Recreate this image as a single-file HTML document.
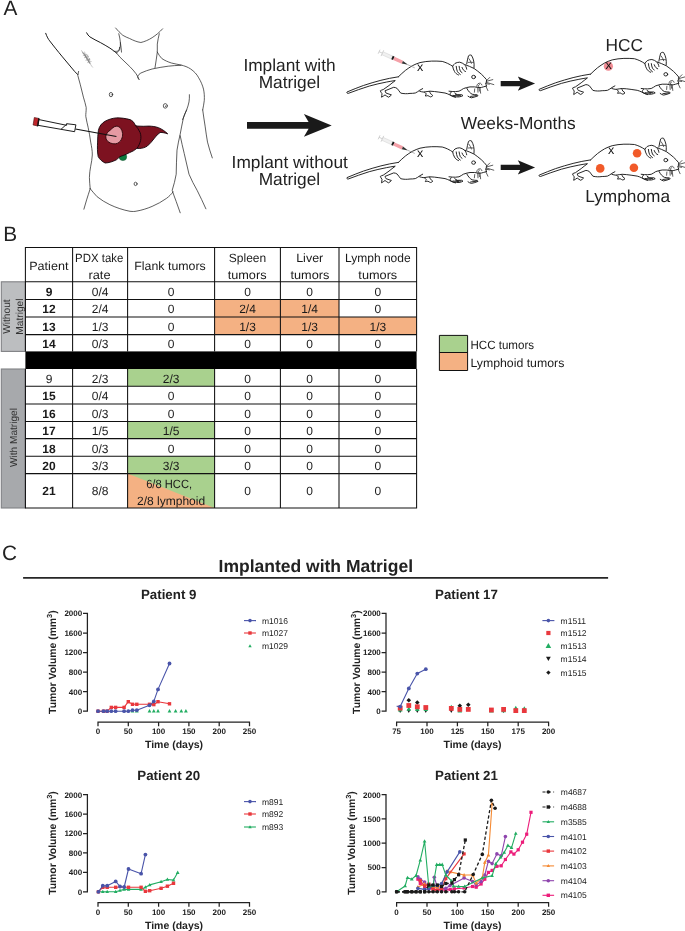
<!DOCTYPE html>
<html lang="en"><head><meta charset="utf-8"><title>Figure</title>
<style>html,body{margin:0;padding:0;background:#fff}svg{display:block;will-change:transform;transform:translateZ(0)}text{white-space:pre;text-rendering:geometricPrecision}</style></head>
<body>
<svg width="685" height="931" viewBox="0 0 685 931">
<text x="3.6" y="15.3" font-family="Liberation Sans, sans-serif" font-size="20.8" fill="#222">A</text>
<text x="3.3" y="240.8" font-family="Liberation Sans, sans-serif" font-size="20.8" fill="#222">B</text>
<path d="M45.7 33.3C47 37 48.5 39.5 49.7 40.9C54 46.5 58 51.5 61.8 56.1L74.6 71.4L77.8 74.6" stroke="#1a1a1a" stroke-width="1.0" fill="none" stroke-linecap="round" stroke-linejoin="round"/>
<path d="M78.6 71.4L77.8 75.4C78.5 78.5 79.5 81.5 80.2 84.2L83.4 97.1C84.5 101 85.6 104.5 86.2 107.5C86.3 111.5 85.6 114 85.8 116.4C86.4 120.5 87.4 124 88.2 127.7C89.2 132.5 90 137 90.7 142.1C91.5 146.5 92.4 150.5 92.3 155C92.2 159 91.3 162.5 90.7 166.2C90.1 170 89.4 173.5 89.4 177.4C89.5 181.5 89.9 185 90.2 188.7" stroke="#2a2a2a" stroke-width="0.75" fill="none" stroke-linecap="round" stroke-linejoin="round"/>
<path d="M90.2 188.7C89 192.5 87.8 196 86.6 199.9L83.9 209.2" stroke="#2a2a2a" stroke-width="0.75" fill="none" stroke-linecap="round" stroke-linejoin="round"/>
<path d="M90.2 188.7C92.5 191.5 94.7 194.2 97.1 196.7C101 199.8 105.3 202.5 109.9 204.7C116.5 207.8 123.2 210 130 211.3C133 211.6 134.8 211.5 136.1 211.2C141.5 210.3 147 208.6 152.1 206.4C157.2 204.2 162.2 201.5 166.6 198.3C169 196.5 171.2 194.4 173 191.9" stroke="#2a2a2a" stroke-width="0.75" fill="none" stroke-linecap="round" stroke-linejoin="round"/>
<path d="M186.6 110C185.2 112.6 184.2 115.2 183.4 118C182.2 123.4 181.2 128.7 180.2 134.1C179 139.4 177.8 144.7 177 150.1C176.3 158.1 176.6 166.2 176.2 174.2C175.3 179.7 173.8 185 172.2 190.3C173.4 194.1 174.8 197.8 176.2 201.5L180.2 212.8" stroke="#2a2a2a" stroke-width="0.75" fill="none" stroke-linecap="round" stroke-linejoin="round"/>
<path d="M180.2 135.7C181.4 141.6 182.8 147.5 184.2 153.4C185.8 160.3 187.4 167.3 189 174.2C191.3 179.8 194.2 185.1 197.1 190.3C200.2 196.4 203.1 202.6 205.9 208.8" stroke="#2a2a2a" stroke-width="0.75" fill="none" stroke-linecap="round" stroke-linejoin="round"/>
<path d="M202.7 109.9C203.4 115.4 204.3 120.7 205.1 126.1C205.9 131.4 206.5 136.8 207.5 142.1C208.8 147.5 210.6 152.7 212.3 157.9" stroke="#2a2a2a" stroke-width="0.75" fill="none" stroke-linecap="round" stroke-linejoin="round"/>
<path d="M86.6 32.8C87.4 34.4 88.5 35.8 89.9 36.9C93.2 39 96.8 40.7 100.3 42.5C103.5 44.3 106.8 46.1 109.9 48.1C112.1 49.6 114.3 51.2 116.4 52.9" stroke="#1a1a1a" stroke-width="1.0" fill="none" stroke-linecap="round" stroke-linejoin="round"/>
<path d="M116.4 52.9L120 57.2L129.8 66.6C132 68.8 134.2 71.2 136.1 73.8C137.3 75.6 138.3 77.4 139 79.4" stroke="#2a2a2a" stroke-width="0.75" fill="none" stroke-linecap="round" stroke-linejoin="round"/>
<path d="M139 79.4C138 78.4 137.4 77.3 137.7 76.2C138.3 74.8 139.5 73.8 140.9 73C144.5 71.3 148.3 70.1 152.1 69C157.4 67.8 162.8 66.9 168.2 66.2C172.5 65.7 176.7 65.4 181 65.3" stroke="#2a2a2a" stroke-width="0.75" fill="none" stroke-linecap="round" stroke-linejoin="round"/>
<path d="M115.6 28C117.8 30.6 120.2 33.1 122.8 35.3C125 36.6 127.3 37.6 129.6 38.5C133.2 40.3 137 42 140.9 42.5C144.8 41.6 148.6 39.9 152.1 37.7C156 35.2 159.6 32.2 162.6 28.8" stroke="#2a2a2a" stroke-width="0.75" fill="none" stroke-linecap="round" stroke-linejoin="round"/>
<path d="M118.8 33.7C119.6 36.6 120.1 39.5 120.4 42.5C120.6 44.9 120.3 47.3 119.6 49.7C118.9 51.1 117.8 52.2 116.4 52.9M114 51.3C115.9 51.6 117.9 51.3 118.6 50.5C119.4 49.6 119.6 48.4 119.6 47.3M120.4 42.5C120.9 45.7 121.3 48.9 121.5 52.1" stroke="#2a2a2a" stroke-width="0.75" fill="none" stroke-linecap="round" stroke-linejoin="round"/>
<path d="M159.3 33.7C158.5 37.1 157.7 40.6 157.3 44.1C157.2 46.8 157.2 49.4 157.3 52.1C156.7 57.3 155.8 62.5 155 67.7" stroke="#2a2a2a" stroke-width="0.75" fill="none" stroke-linecap="round" stroke-linejoin="round"/>
<path d="M157.3 52.1C158.5 54.4 160 56.6 161.8 58.5C164.7 60.5 168 61.9 171.4 63C174.5 63.9 177.8 64.3 181 65C184.4 65.9 187.8 67 190.7 69C194 71.3 196.8 74.2 198.7 77.8C200.8 81.3 202.5 85.1 203.5 89.1C204.3 92.8 204.5 96.6 204.3 100.3C204.1 103.5 203.2 106.7 202.7 109.9" stroke="#2a2a2a" stroke-width="0.75" fill="none" stroke-linecap="round" stroke-linejoin="round"/>
<path d="M189.4 94.7C189.5 97.1 189.4 99.5 189 101.9C188.5 104.6 187.6 107.3 186.6 109.9L182.6 119.6" stroke="#2a2a2a" stroke-width="0.75" fill="none" stroke-linecap="round" stroke-linejoin="round"/>
<ellipse cx="111" cy="94.6" rx="1.7" ry="2.2" stroke="#2a2a2a" stroke-width="0.75" fill="none" stroke-linecap="round" stroke-linejoin="round"/><circle cx="111.2" cy="94.8" r="0.5" fill="#444"/>
<ellipse cx="165.3" cy="105.9" rx="2" ry="2.3" stroke="#2a2a2a" stroke-width="0.75" fill="none" stroke-linecap="round" stroke-linejoin="round"/><circle cx="165.5" cy="106.2" r="0.6" fill="#444"/>
<ellipse cx="135.6" cy="183.9" rx="1.5" ry="1.7" stroke="#2a2a2a" stroke-width="0.75" fill="none" stroke-linecap="round" stroke-linejoin="round"/>
<path d="M81.6 50.6L83.6 54.4L82.6 51.8L85.4 56.6L83.8 53L87 58.8L84.8 55.2L88.6 61.6L86.4 57.2L90 63.8L88 60L91.6 66L92.6 67.2M83.2 55.6L86.8 54.2L84.4 57.8L88.6 56.4L85.8 60.4L90 59L87.6 62.6L91.2 61.6M84.6 52L86.2 57.4L87.6 54.8L88.4 60.2L89.6 58.2L89.8 63" stroke="#777" stroke-width="0.4" fill="none" stroke-linecap="round" stroke-linejoin="round"/>
<ellipse cx="122.9" cy="156.8" rx="3.8" ry="3.8" fill="#0d7a3e" stroke="#0a4f28" stroke-width="0.5"/>
<path d="M98.4 130.4C99.2 126.4 101.8 123 105.4 121.1C108.8 119.3 112.6 118.2 116.4 117.9C121 117.7 125.6 118.5 130 119.6C132.4 120.6 134.2 122.3 135.3 125.3C136.2 125.7 137 125.9 137.7 126.1C141.4 126.4 145.2 126.3 148.9 126.1C152.2 126.2 155.5 126.6 158.5 127.7C161.9 129.1 165 131.2 167.7 133.8C165.2 133 162.5 132.3 160.1 132.5C157.9 133.9 156.1 135.9 154.5 138.1C152.3 141 150 143.8 147.3 146.1C144.9 147.6 142.1 148.4 139.3 148.5L136.9 148.3C134.7 150.2 132.3 151.6 129.6 152.6C126.5 154.2 123.3 155.6 120 156.6C118.8 157.6 117.6 158.8 116.4 159.8C112.8 161.6 108.9 162.9 105.1 163C102.2 161.5 99.6 159.4 98.2 156.6C97.3 151.8 97.3 147 97.6 142.1C97.7 138.2 97.8 134.2 98.4 130.4Z" fill="#7d1220" stroke="#14030a" stroke-width="0.9" stroke-linejoin="round"/>
<path d="M135.3 125.3C137.3 127.5 139 129.9 140.1 132.5C141 135.1 141.1 137.9 140.6 140.5C139.9 143.4 138.6 146.1 136.9 148.5" stroke="#14030a" stroke-width="0.9" fill="none"/>
<path d="M116.3 126.2C113.8 126.4 112 128.5 110.5 129.9C108.2 131.6 106 133.6 105.8 136.5C105.7 139 107 141.2 109 142.3C111 143.5 113.4 144 115.6 143.8C118 143.5 120.3 141.8 121.4 139.4C122.3 137.6 122.8 135.5 122.6 133.5C122.4 131.6 121.8 129.8 120.7 128.4C119.6 127 118 126.1 116.3 126.2Z" fill="#e59aa3" stroke="#2a0509" stroke-width="0.9"/>
<path d="M75.4 129L116.4 136.5" stroke="#111" stroke-width="1.15" fill="none"/>
<path d="M39 119.6L66.6 125.3L66.6 123.7L75.9 124.8L74.6 131.7L38 125.3Z" fill="#fff" stroke="#111" stroke-width="0.95" stroke-linejoin="round"/>
<path d="M61 129.3L66.6 124.3" stroke="#111" stroke-width="0.9" fill="none"/>
<path d="M34.3 117.5L38.8 118.4L37.5 125.9L33.1 125.0Z" fill="#bf262b" stroke="#4a0a0c" stroke-width="0.6"/>
<path d="M38.9 118.2L37.5 126.3" stroke="#111" stroke-width="1.2"/>
<g font-family="Liberation Sans, sans-serif" font-size="17.3" fill="#222" text-anchor="middle">
<text x="289.5" y="70.7">Implant with</text><text x="289.4" y="88.2">Matrigel</text>
<text x="289.7" y="168.0">Implant without</text><text x="289.4" y="185.4">Matrigel</text>
<text x="518.2" y="128.6">Weeks-Months</text>
<text x="624.2" y="50.7">HCC</text><text x="627.6" y="201.7">Lymphoma</text>
</g>
<path d="M247.0 122.05000000000001H308.59999999999997L303.9 114.10000000000001L331.7 125.4L303.9 136.70000000000002L308.59999999999997 128.75H247.0Z" fill="#1a1a1a"/>
<path d="M500.7 81.05H520.2L517.8000000000001 76.39999999999999L535.1 83.6L517.8000000000001 90.8L520.2 86.14999999999999H500.7Z" fill="#1a1a1a"/>
<path d="M500.7 164.85H520.2L517.8000000000001 160.20000000000002L535.1 167.4L517.8000000000001 174.6L520.2 169.95000000000002H500.7Z" fill="#1a1a1a"/>
<g transform="translate(340,40)"><g>
<path d="M58.4 36.8C52.5 37.7 46.6 38.8 40.9 40.3C35 41.8 29.2 43.6 23.4 45.5C17.9 47.5 12.4 49.7 7 52C6.5 52.7 7 53.4 8.2 53.4C15.1 50.8 22.1 48.3 29.2 46.1C35 44.5 40.8 43.1 46.7 42C49.4 41.5 52.2 41 54.9 40.6" stroke="#1c1c1c" stroke-width="0.95" fill="none" stroke-linecap="round" stroke-linejoin="round"/>
<path d="M58.4 36.8C60.6 34.6 63 32.4 65.4 30.4C67.6 28.7 70 27.1 72.4 25.7C74.8 24.4 77.4 23.4 80 22.6C83.8 21.7 87.8 21.2 91.7 21.1C95.2 21 98.7 21.1 102.2 21.4C105.9 22.4 109.5 24.1 112.7 26.3" stroke="#1c1c1c" stroke-width="0.95" fill="none" stroke-linecap="round" stroke-linejoin="round"/>
<path d="M54.9 40.9C52.9 42.4 50.9 43.9 49 45.5C47 46.8 45.1 48.2 43.2 49.6C42.2 49.8 41.2 50.2 40.3 50.8C40.7 51.9 41.4 52.8 42 53.7C42 54.9 41.6 56 41.5 57.2C42.7 56.5 43.9 55.8 45 54.9C46.1 55.8 47.3 56.5 48.5 57.2C49.6 56.6 50.6 55.9 51.4 54.9C49.7 54.2 47.8 53.8 46.1 53.1C45.6 52.4 45.2 51.6 45 50.8C47.9 49.6 50.8 48.4 53.7 47.3C55 47.3 56.2 47.8 57.2 48.5C58.5 49.9 59.4 51.7 60.7 53.1C63.7 53.8 66.9 53.9 70 53.4C71.8 53.4 73.6 53.3 75.3 53C76.9 52.3 78.3 51.3 79.6 50.3L82.7 48.6" stroke="#1c1c1c" stroke-width="0.95" fill="none" stroke-linecap="round" stroke-linejoin="round"/>
<path d="M79.6 51.2C81 51.7 82.5 52 84 52.1C86 51.7 88.1 51.3 90.1 51.2C93 51.3 96 51.7 98.9 52.1C101 52.3 103 52.6 105 53C106.5 53.4 108 54 109.4 54.7C110.6 55.2 111.8 55.8 112.9 56.5L115.5 57.3" stroke="#1c1c1c" stroke-width="0.95" fill="none" stroke-linecap="round" stroke-linejoin="round"/>
<path d="M84.4 52.1C85.1 52.6 85.7 53.2 86.2 53.8C86.1 54.6 85.7 55.3 85.3 56C86.2 56 87.1 55.8 87.9 55.6C88.8 56.1 89.7 56.6 90.6 56.9C91.5 56.7 92.3 56.2 92.8 55.6C92.2 54.9 91.5 54.3 90.6 53.8C90.2 53.1 89.9 52.4 89.7 51.6" stroke="#1c1c1c" stroke-width="0.95" fill="none" stroke-linecap="round" stroke-linejoin="round"/>
<path d="M109 51.2C111.2 51.5 113.3 51.6 115.5 51.6L119 51.2C120.6 50.5 122 49.5 123.4 48.6C125.5 47.8 127.7 47.2 130 46.9C131.6 46.8 133.2 46.8 134.7 46.9C136.5 47.3 138.2 47.6 140 47.6C141.1 47.5 142.2 47.3 143.3 46.9L146.5 46" stroke="#1c1c1c" stroke-width="0.95" fill="none" stroke-linecap="round" stroke-linejoin="round"/>
<path d="M111.2 52.1C110.5 52.9 110 53.8 109.8 54.7C111 55.5 112.4 56.1 113.8 56.5C115.5 56.9 117.3 57 119 56.9C120.4 56.7 121.8 56.3 123 55.6L121.7 54.7C120.2 54.8 118.8 54.8 117.3 54.7C116.4 54.2 115.5 53.7 114.7 53M113 55.4L118.6 56M115.6 54.6L120.4 55.6" stroke="#1c1c1c" stroke-width="0.95" fill="none" stroke-linecap="round" stroke-linejoin="round"/>
<path d="M126.8 48.3C127.5 49.7 128.4 51 129.5 52.2C130.3 53 131.2 53.7 132.1 54.2C133.8 54.6 135.6 54.8 137.3 54.8L138 55.8C135.9 56.7 133.7 57.4 131.4 57.8C130.2 57.5 129 57 128 56.2M130.6 56.4L136.4 55.6" stroke="#1c1c1c" stroke-width="0.95" fill="none" stroke-linecap="round" stroke-linejoin="round"/>
<path d="M124.9 24.6C128 25.7 131.1 27 134.1 28.5C136.6 30.2 139 32.1 141.3 34.1C143.2 35.8 144.9 37.7 146.5 39.7C146.7 40.6 146.5 41.5 146.2 42.3C145.9 43 145.8 43.7 146 44.4L146.5 46" stroke="#1c1c1c" stroke-width="0.95" fill="none" stroke-linecap="round" stroke-linejoin="round"/>
<path d="M118.5 35C116.7 34.3 115.3 33 114.5 31.5C113.6 29.9 112.9 28.1 112.7 26.3C113.2 25.2 114 24.2 115 23.4C116.4 22.6 118.1 22.2 119.7 22.2C121.5 22.6 123.1 23.4 124.4 24.5C125.7 25.8 126.5 27.4 126.7 29.2" stroke="#1c1c1c" stroke-width="0.95" fill="none" stroke-linecap="round" stroke-linejoin="round"/>
<path d="M116.2 26.3C116.3 28.1 116.8 29.9 117.4 31.5C118.1 32.7 119.1 33.7 120.3 34.5M119.1 26.3C119.2 27.9 119.7 29.5 120.3 31C120.7 31.7 121.3 32.3 122 32.7M122 27.4C122.4 28.5 123 29.5 123.8 30.4C124.3 30.9 124.9 31.3 125.5 31.5" stroke="#1c1c1c" stroke-width="0.95" fill="none" stroke-linecap="round" stroke-linejoin="round"/>
<path d="M126.7 23.9C127.1 21.2 127.7 18.5 128.5 15.8C129.4 15 130.5 14.8 131.4 15.2C132.5 17 133.3 19 133.7 21C134.1 23.1 134.3 25.3 134 27.8" stroke="#1c1c1c" stroke-width="0.95" fill="none" stroke-linecap="round" stroke-linejoin="round"/>
<path d="M129 18.7C130.1 20.1 130.9 21.7 131.4 23.4M128.3 22.4C130 22.1 131.6 22.1 133.2 22.4" stroke="#222" stroke-width="0.72" fill="none" stroke-linecap="round" stroke-linejoin="round"/>
<path d="M146.4 40.8L149.8 37.4M146.6 41.3L152.8 39.6M146.4 42.4L153.8 44.6M145.6 43.6L149.4 44.2M145.9 46.3L147.9 50.6" stroke="#222" stroke-width="0.72" fill="none" stroke-linecap="round" stroke-linejoin="round"/>
<path d="M137.7 47.6L138 52.2M140 47.6L140.6 53.2M134.7 48.9L134.4 52.2M138.9 47L139.4 51M136.7 46.3C136.9 45.2 137.3 44.3 138 43.7C138.9 43.2 139.8 43.1 140.6 43.3C141.3 43.7 141.7 44.3 141.9 45M138.2 46.4C138.4 45.4 138.8 44.7 139.5 44.5" stroke="#222" stroke-width="0.72" fill="none" stroke-linecap="round" stroke-linejoin="round"/>
<ellipse cx="133.6" cy="37" rx="1.9" ry="1.7" stroke="#1c1c1c" stroke-width="0.95" fill="none" stroke-linecap="round" stroke-linejoin="round"/>
</g><g>
<g transform="translate(39.1,11.7) rotate(24.4)">
<path d="M0 -2.2V2.2M0 0H5M3.6 -3.2V3.2" stroke="#c4c4c4" stroke-width="0.7" fill="none"/>
<rect x="3.8" y="-1.6" width="10.4" height="3.2" fill="#f0f0f0" stroke="#c8c8c8" stroke-width="0.4"/>
<rect x="14.2" y="-1.9" width="2.0" height="3.8" fill="#1a1a1a"/>
<rect x="16.2" y="-1.7" width="9.4" height="3.4" fill="#f4a0a8"/>
<path d="M25.6 -1.4L30.6 -0.3V0.3L25.6 1.4Z" fill="#333"/>
<path d="M30 0H39.2" stroke="#777" stroke-width="0.5"/>
</g></g></g>
<g transform="translate(340,125.6)"><g>
<path d="M58.4 36.8C52.5 37.7 46.6 38.8 40.9 40.3C35 41.8 29.2 43.6 23.4 45.5C17.9 47.5 12.4 49.7 7 52C6.5 52.7 7 53.4 8.2 53.4C15.1 50.8 22.1 48.3 29.2 46.1C35 44.5 40.8 43.1 46.7 42C49.4 41.5 52.2 41 54.9 40.6" stroke="#1c1c1c" stroke-width="0.95" fill="none" stroke-linecap="round" stroke-linejoin="round"/>
<path d="M58.4 36.8C60.6 34.6 63 32.4 65.4 30.4C67.6 28.7 70 27.1 72.4 25.7C74.8 24.4 77.4 23.4 80 22.6C83.8 21.7 87.8 21.2 91.7 21.1C95.2 21 98.7 21.1 102.2 21.4C105.9 22.4 109.5 24.1 112.7 26.3" stroke="#1c1c1c" stroke-width="0.95" fill="none" stroke-linecap="round" stroke-linejoin="round"/>
<path d="M54.9 40.9C52.9 42.4 50.9 43.9 49 45.5C47 46.8 45.1 48.2 43.2 49.6C42.2 49.8 41.2 50.2 40.3 50.8C40.7 51.9 41.4 52.8 42 53.7C42 54.9 41.6 56 41.5 57.2C42.7 56.5 43.9 55.8 45 54.9C46.1 55.8 47.3 56.5 48.5 57.2C49.6 56.6 50.6 55.9 51.4 54.9C49.7 54.2 47.8 53.8 46.1 53.1C45.6 52.4 45.2 51.6 45 50.8C47.9 49.6 50.8 48.4 53.7 47.3C55 47.3 56.2 47.8 57.2 48.5C58.5 49.9 59.4 51.7 60.7 53.1C63.7 53.8 66.9 53.9 70 53.4C71.8 53.4 73.6 53.3 75.3 53C76.9 52.3 78.3 51.3 79.6 50.3L82.7 48.6" stroke="#1c1c1c" stroke-width="0.95" fill="none" stroke-linecap="round" stroke-linejoin="round"/>
<path d="M79.6 51.2C81 51.7 82.5 52 84 52.1C86 51.7 88.1 51.3 90.1 51.2C93 51.3 96 51.7 98.9 52.1C101 52.3 103 52.6 105 53C106.5 53.4 108 54 109.4 54.7C110.6 55.2 111.8 55.8 112.9 56.5L115.5 57.3" stroke="#1c1c1c" stroke-width="0.95" fill="none" stroke-linecap="round" stroke-linejoin="round"/>
<path d="M84.4 52.1C85.1 52.6 85.7 53.2 86.2 53.8C86.1 54.6 85.7 55.3 85.3 56C86.2 56 87.1 55.8 87.9 55.6C88.8 56.1 89.7 56.6 90.6 56.9C91.5 56.7 92.3 56.2 92.8 55.6C92.2 54.9 91.5 54.3 90.6 53.8C90.2 53.1 89.9 52.4 89.7 51.6" stroke="#1c1c1c" stroke-width="0.95" fill="none" stroke-linecap="round" stroke-linejoin="round"/>
<path d="M109 51.2C111.2 51.5 113.3 51.6 115.5 51.6L119 51.2C120.6 50.5 122 49.5 123.4 48.6C125.5 47.8 127.7 47.2 130 46.9C131.6 46.8 133.2 46.8 134.7 46.9C136.5 47.3 138.2 47.6 140 47.6C141.1 47.5 142.2 47.3 143.3 46.9L146.5 46" stroke="#1c1c1c" stroke-width="0.95" fill="none" stroke-linecap="round" stroke-linejoin="round"/>
<path d="M111.2 52.1C110.5 52.9 110 53.8 109.8 54.7C111 55.5 112.4 56.1 113.8 56.5C115.5 56.9 117.3 57 119 56.9C120.4 56.7 121.8 56.3 123 55.6L121.7 54.7C120.2 54.8 118.8 54.8 117.3 54.7C116.4 54.2 115.5 53.7 114.7 53M113 55.4L118.6 56M115.6 54.6L120.4 55.6" stroke="#1c1c1c" stroke-width="0.95" fill="none" stroke-linecap="round" stroke-linejoin="round"/>
<path d="M126.8 48.3C127.5 49.7 128.4 51 129.5 52.2C130.3 53 131.2 53.7 132.1 54.2C133.8 54.6 135.6 54.8 137.3 54.8L138 55.8C135.9 56.7 133.7 57.4 131.4 57.8C130.2 57.5 129 57 128 56.2M130.6 56.4L136.4 55.6" stroke="#1c1c1c" stroke-width="0.95" fill="none" stroke-linecap="round" stroke-linejoin="round"/>
<path d="M124.9 24.6C128 25.7 131.1 27 134.1 28.5C136.6 30.2 139 32.1 141.3 34.1C143.2 35.8 144.9 37.7 146.5 39.7C146.7 40.6 146.5 41.5 146.2 42.3C145.9 43 145.8 43.7 146 44.4L146.5 46" stroke="#1c1c1c" stroke-width="0.95" fill="none" stroke-linecap="round" stroke-linejoin="round"/>
<path d="M118.5 35C116.7 34.3 115.3 33 114.5 31.5C113.6 29.9 112.9 28.1 112.7 26.3C113.2 25.2 114 24.2 115 23.4C116.4 22.6 118.1 22.2 119.7 22.2C121.5 22.6 123.1 23.4 124.4 24.5C125.7 25.8 126.5 27.4 126.7 29.2" stroke="#1c1c1c" stroke-width="0.95" fill="none" stroke-linecap="round" stroke-linejoin="round"/>
<path d="M116.2 26.3C116.3 28.1 116.8 29.9 117.4 31.5C118.1 32.7 119.1 33.7 120.3 34.5M119.1 26.3C119.2 27.9 119.7 29.5 120.3 31C120.7 31.7 121.3 32.3 122 32.7M122 27.4C122.4 28.5 123 29.5 123.8 30.4C124.3 30.9 124.9 31.3 125.5 31.5" stroke="#1c1c1c" stroke-width="0.95" fill="none" stroke-linecap="round" stroke-linejoin="round"/>
<path d="M126.7 23.9C127.1 21.2 127.7 18.5 128.5 15.8C129.4 15 130.5 14.8 131.4 15.2C132.5 17 133.3 19 133.7 21C134.1 23.1 134.3 25.3 134 27.8" stroke="#1c1c1c" stroke-width="0.95" fill="none" stroke-linecap="round" stroke-linejoin="round"/>
<path d="M129 18.7C130.1 20.1 130.9 21.7 131.4 23.4M128.3 22.4C130 22.1 131.6 22.1 133.2 22.4" stroke="#222" stroke-width="0.72" fill="none" stroke-linecap="round" stroke-linejoin="round"/>
<path d="M146.4 40.8L149.8 37.4M146.6 41.3L152.8 39.6M146.4 42.4L153.8 44.6M145.6 43.6L149.4 44.2M145.9 46.3L147.9 50.6" stroke="#222" stroke-width="0.72" fill="none" stroke-linecap="round" stroke-linejoin="round"/>
<path d="M137.7 47.6L138 52.2M140 47.6L140.6 53.2M134.7 48.9L134.4 52.2M138.9 47L139.4 51M136.7 46.3C136.9 45.2 137.3 44.3 138 43.7C138.9 43.2 139.8 43.1 140.6 43.3C141.3 43.7 141.7 44.3 141.9 45M138.2 46.4C138.4 45.4 138.8 44.7 139.5 44.5" stroke="#222" stroke-width="0.72" fill="none" stroke-linecap="round" stroke-linejoin="round"/>
<ellipse cx="133.6" cy="37" rx="1.9" ry="1.7" stroke="#1c1c1c" stroke-width="0.95" fill="none" stroke-linecap="round" stroke-linejoin="round"/>
</g><g>
<g transform="translate(39.1,11.7) rotate(24.4)">
<path d="M0 -2.2V2.2M0 0H5M3.6 -3.2V3.2" stroke="#c4c4c4" stroke-width="0.7" fill="none"/>
<rect x="3.8" y="-1.6" width="10.4" height="3.2" fill="#f0f0f0" stroke="#c8c8c8" stroke-width="0.4"/>
<rect x="14.2" y="-1.9" width="2.0" height="3.8" fill="#1a1a1a"/>
<rect x="16.2" y="-1.7" width="9.4" height="3.4" fill="#f4a0a8"/>
<path d="M25.6 -1.4L30.6 -0.3V0.3L25.6 1.4Z" fill="#333"/>
<path d="M30 0H39.2" stroke="#777" stroke-width="0.5"/>
</g></g></g>
<circle cx="608.4" cy="66.2" r="4.6" fill="#f08c94"/>
<g transform="translate(532.2,37.3)"><g>
<path d="M58.4 36.8C52.5 37.7 46.6 38.8 40.9 40.3C35 41.8 29.2 43.6 23.4 45.5C17.9 47.5 12.4 49.7 7 52C6.5 52.7 7 53.4 8.2 53.4C15.1 50.8 22.1 48.3 29.2 46.1C35 44.5 40.8 43.1 46.7 42C49.4 41.5 52.2 41 54.9 40.6" stroke="#1c1c1c" stroke-width="0.95" fill="none" stroke-linecap="round" stroke-linejoin="round"/>
<path d="M58.4 36.8C60.6 34.6 63 32.4 65.4 30.4C67.6 28.7 70 27.1 72.4 25.7C74.8 24.4 77.4 23.4 80 22.6C83.8 21.7 87.8 21.2 91.7 21.1C95.2 21 98.7 21.1 102.2 21.4C105.9 22.4 109.5 24.1 112.7 26.3" stroke="#1c1c1c" stroke-width="0.95" fill="none" stroke-linecap="round" stroke-linejoin="round"/>
<path d="M54.9 40.9C52.9 42.4 50.9 43.9 49 45.5C47 46.8 45.1 48.2 43.2 49.6C42.2 49.8 41.2 50.2 40.3 50.8C40.7 51.9 41.4 52.8 42 53.7C42 54.9 41.6 56 41.5 57.2C42.7 56.5 43.9 55.8 45 54.9C46.1 55.8 47.3 56.5 48.5 57.2C49.6 56.6 50.6 55.9 51.4 54.9C49.7 54.2 47.8 53.8 46.1 53.1C45.6 52.4 45.2 51.6 45 50.8C47.9 49.6 50.8 48.4 53.7 47.3C55 47.3 56.2 47.8 57.2 48.5C58.5 49.9 59.4 51.7 60.7 53.1C63.7 53.8 66.9 53.9 70 53.4C71.8 53.4 73.6 53.3 75.3 53C76.9 52.3 78.3 51.3 79.6 50.3L82.7 48.6" stroke="#1c1c1c" stroke-width="0.95" fill="none" stroke-linecap="round" stroke-linejoin="round"/>
<path d="M79.6 51.2C81 51.7 82.5 52 84 52.1C86 51.7 88.1 51.3 90.1 51.2C93 51.3 96 51.7 98.9 52.1C101 52.3 103 52.6 105 53C106.5 53.4 108 54 109.4 54.7C110.6 55.2 111.8 55.8 112.9 56.5L115.5 57.3" stroke="#1c1c1c" stroke-width="0.95" fill="none" stroke-linecap="round" stroke-linejoin="round"/>
<path d="M84.4 52.1C85.1 52.6 85.7 53.2 86.2 53.8C86.1 54.6 85.7 55.3 85.3 56C86.2 56 87.1 55.8 87.9 55.6C88.8 56.1 89.7 56.6 90.6 56.9C91.5 56.7 92.3 56.2 92.8 55.6C92.2 54.9 91.5 54.3 90.6 53.8C90.2 53.1 89.9 52.4 89.7 51.6" stroke="#1c1c1c" stroke-width="0.95" fill="none" stroke-linecap="round" stroke-linejoin="round"/>
<path d="M109 51.2C111.2 51.5 113.3 51.6 115.5 51.6L119 51.2C120.6 50.5 122 49.5 123.4 48.6C125.5 47.8 127.7 47.2 130 46.9C131.6 46.8 133.2 46.8 134.7 46.9C136.5 47.3 138.2 47.6 140 47.6C141.1 47.5 142.2 47.3 143.3 46.9L146.5 46" stroke="#1c1c1c" stroke-width="0.95" fill="none" stroke-linecap="round" stroke-linejoin="round"/>
<path d="M111.2 52.1C110.5 52.9 110 53.8 109.8 54.7C111 55.5 112.4 56.1 113.8 56.5C115.5 56.9 117.3 57 119 56.9C120.4 56.7 121.8 56.3 123 55.6L121.7 54.7C120.2 54.8 118.8 54.8 117.3 54.7C116.4 54.2 115.5 53.7 114.7 53M113 55.4L118.6 56M115.6 54.6L120.4 55.6" stroke="#1c1c1c" stroke-width="0.95" fill="none" stroke-linecap="round" stroke-linejoin="round"/>
<path d="M126.8 48.3C127.5 49.7 128.4 51 129.5 52.2C130.3 53 131.2 53.7 132.1 54.2C133.8 54.6 135.6 54.8 137.3 54.8L138 55.8C135.9 56.7 133.7 57.4 131.4 57.8C130.2 57.5 129 57 128 56.2M130.6 56.4L136.4 55.6" stroke="#1c1c1c" stroke-width="0.95" fill="none" stroke-linecap="round" stroke-linejoin="round"/>
<path d="M124.9 24.6C128 25.7 131.1 27 134.1 28.5C136.6 30.2 139 32.1 141.3 34.1C143.2 35.8 144.9 37.7 146.5 39.7C146.7 40.6 146.5 41.5 146.2 42.3C145.9 43 145.8 43.7 146 44.4L146.5 46" stroke="#1c1c1c" stroke-width="0.95" fill="none" stroke-linecap="round" stroke-linejoin="round"/>
<path d="M118.5 35C116.7 34.3 115.3 33 114.5 31.5C113.6 29.9 112.9 28.1 112.7 26.3C113.2 25.2 114 24.2 115 23.4C116.4 22.6 118.1 22.2 119.7 22.2C121.5 22.6 123.1 23.4 124.4 24.5C125.7 25.8 126.5 27.4 126.7 29.2" stroke="#1c1c1c" stroke-width="0.95" fill="none" stroke-linecap="round" stroke-linejoin="round"/>
<path d="M116.2 26.3C116.3 28.1 116.8 29.9 117.4 31.5C118.1 32.7 119.1 33.7 120.3 34.5M119.1 26.3C119.2 27.9 119.7 29.5 120.3 31C120.7 31.7 121.3 32.3 122 32.7M122 27.4C122.4 28.5 123 29.5 123.8 30.4C124.3 30.9 124.9 31.3 125.5 31.5" stroke="#1c1c1c" stroke-width="0.95" fill="none" stroke-linecap="round" stroke-linejoin="round"/>
<path d="M126.7 23.9C127.1 21.2 127.7 18.5 128.5 15.8C129.4 15 130.5 14.8 131.4 15.2C132.5 17 133.3 19 133.7 21C134.1 23.1 134.3 25.3 134 27.8" stroke="#1c1c1c" stroke-width="0.95" fill="none" stroke-linecap="round" stroke-linejoin="round"/>
<path d="M129 18.7C130.1 20.1 130.9 21.7 131.4 23.4M128.3 22.4C130 22.1 131.6 22.1 133.2 22.4" stroke="#222" stroke-width="0.72" fill="none" stroke-linecap="round" stroke-linejoin="round"/>
<path d="M146.4 40.8L149.8 37.4M146.6 41.3L152.8 39.6M146.4 42.4L153.8 44.6M145.6 43.6L149.4 44.2M145.9 46.3L147.9 50.6" stroke="#222" stroke-width="0.72" fill="none" stroke-linecap="round" stroke-linejoin="round"/>
<path d="M137.7 47.6L138 52.2M140 47.6L140.6 53.2M134.7 48.9L134.4 52.2M138.9 47L139.4 51M136.7 46.3C136.9 45.2 137.3 44.3 138 43.7C138.9 43.2 139.8 43.1 140.6 43.3C141.3 43.7 141.7 44.3 141.9 45M138.2 46.4C138.4 45.4 138.8 44.7 139.5 44.5" stroke="#222" stroke-width="0.72" fill="none" stroke-linecap="round" stroke-linejoin="round"/>
<ellipse cx="133.6" cy="37" rx="1.9" ry="1.7" stroke="#1c1c1c" stroke-width="0.95" fill="none" stroke-linecap="round" stroke-linejoin="round"/>
</g></g>
<circle cx="637.1" cy="153.2" r="4.3" fill="#f15a29"/>
<circle cx="600.2" cy="168.4" r="4.3" fill="#f15a29"/>
<circle cx="633.9" cy="167.7" r="4.3" fill="#f15a29"/>
<g transform="translate(532.2,123.1)"><g>
<path d="M58.4 36.8C52.5 37.7 46.6 38.8 40.9 40.3C35 41.8 29.2 43.6 23.4 45.5C17.9 47.5 12.4 49.7 7 52C6.5 52.7 7 53.4 8.2 53.4C15.1 50.8 22.1 48.3 29.2 46.1C35 44.5 40.8 43.1 46.7 42C49.4 41.5 52.2 41 54.9 40.6" stroke="#1c1c1c" stroke-width="0.95" fill="none" stroke-linecap="round" stroke-linejoin="round"/>
<path d="M58.4 36.8C60.6 34.6 63 32.4 65.4 30.4C67.6 28.7 70 27.1 72.4 25.7C74.8 24.4 77.4 23.4 80 22.6C83.8 21.7 87.8 21.2 91.7 21.1C95.2 21 98.7 21.1 102.2 21.4C105.9 22.4 109.5 24.1 112.7 26.3" stroke="#1c1c1c" stroke-width="0.95" fill="none" stroke-linecap="round" stroke-linejoin="round"/>
<path d="M54.9 40.9C52.9 42.4 50.9 43.9 49 45.5C47 46.8 45.1 48.2 43.2 49.6C42.2 49.8 41.2 50.2 40.3 50.8C40.7 51.9 41.4 52.8 42 53.7C42 54.9 41.6 56 41.5 57.2C42.7 56.5 43.9 55.8 45 54.9C46.1 55.8 47.3 56.5 48.5 57.2C49.6 56.6 50.6 55.9 51.4 54.9C49.7 54.2 47.8 53.8 46.1 53.1C45.6 52.4 45.2 51.6 45 50.8C47.9 49.6 50.8 48.4 53.7 47.3C55 47.3 56.2 47.8 57.2 48.5C58.5 49.9 59.4 51.7 60.7 53.1C63.7 53.8 66.9 53.9 70 53.4C71.8 53.4 73.6 53.3 75.3 53C76.9 52.3 78.3 51.3 79.6 50.3L82.7 48.6" stroke="#1c1c1c" stroke-width="0.95" fill="none" stroke-linecap="round" stroke-linejoin="round"/>
<path d="M79.6 51.2C81 51.7 82.5 52 84 52.1C86 51.7 88.1 51.3 90.1 51.2C93 51.3 96 51.7 98.9 52.1C101 52.3 103 52.6 105 53C106.5 53.4 108 54 109.4 54.7C110.6 55.2 111.8 55.8 112.9 56.5L115.5 57.3" stroke="#1c1c1c" stroke-width="0.95" fill="none" stroke-linecap="round" stroke-linejoin="round"/>
<path d="M84.4 52.1C85.1 52.6 85.7 53.2 86.2 53.8C86.1 54.6 85.7 55.3 85.3 56C86.2 56 87.1 55.8 87.9 55.6C88.8 56.1 89.7 56.6 90.6 56.9C91.5 56.7 92.3 56.2 92.8 55.6C92.2 54.9 91.5 54.3 90.6 53.8C90.2 53.1 89.9 52.4 89.7 51.6" stroke="#1c1c1c" stroke-width="0.95" fill="none" stroke-linecap="round" stroke-linejoin="round"/>
<path d="M109 51.2C111.2 51.5 113.3 51.6 115.5 51.6L119 51.2C120.6 50.5 122 49.5 123.4 48.6C125.5 47.8 127.7 47.2 130 46.9C131.6 46.8 133.2 46.8 134.7 46.9C136.5 47.3 138.2 47.6 140 47.6C141.1 47.5 142.2 47.3 143.3 46.9L146.5 46" stroke="#1c1c1c" stroke-width="0.95" fill="none" stroke-linecap="round" stroke-linejoin="round"/>
<path d="M111.2 52.1C110.5 52.9 110 53.8 109.8 54.7C111 55.5 112.4 56.1 113.8 56.5C115.5 56.9 117.3 57 119 56.9C120.4 56.7 121.8 56.3 123 55.6L121.7 54.7C120.2 54.8 118.8 54.8 117.3 54.7C116.4 54.2 115.5 53.7 114.7 53M113 55.4L118.6 56M115.6 54.6L120.4 55.6" stroke="#1c1c1c" stroke-width="0.95" fill="none" stroke-linecap="round" stroke-linejoin="round"/>
<path d="M126.8 48.3C127.5 49.7 128.4 51 129.5 52.2C130.3 53 131.2 53.7 132.1 54.2C133.8 54.6 135.6 54.8 137.3 54.8L138 55.8C135.9 56.7 133.7 57.4 131.4 57.8C130.2 57.5 129 57 128 56.2M130.6 56.4L136.4 55.6" stroke="#1c1c1c" stroke-width="0.95" fill="none" stroke-linecap="round" stroke-linejoin="round"/>
<path d="M124.9 24.6C128 25.7 131.1 27 134.1 28.5C136.6 30.2 139 32.1 141.3 34.1C143.2 35.8 144.9 37.7 146.5 39.7C146.7 40.6 146.5 41.5 146.2 42.3C145.9 43 145.8 43.7 146 44.4L146.5 46" stroke="#1c1c1c" stroke-width="0.95" fill="none" stroke-linecap="round" stroke-linejoin="round"/>
<path d="M118.5 35C116.7 34.3 115.3 33 114.5 31.5C113.6 29.9 112.9 28.1 112.7 26.3C113.2 25.2 114 24.2 115 23.4C116.4 22.6 118.1 22.2 119.7 22.2C121.5 22.6 123.1 23.4 124.4 24.5C125.7 25.8 126.5 27.4 126.7 29.2" stroke="#1c1c1c" stroke-width="0.95" fill="none" stroke-linecap="round" stroke-linejoin="round"/>
<path d="M116.2 26.3C116.3 28.1 116.8 29.9 117.4 31.5C118.1 32.7 119.1 33.7 120.3 34.5M119.1 26.3C119.2 27.9 119.7 29.5 120.3 31C120.7 31.7 121.3 32.3 122 32.7M122 27.4C122.4 28.5 123 29.5 123.8 30.4C124.3 30.9 124.9 31.3 125.5 31.5" stroke="#1c1c1c" stroke-width="0.95" fill="none" stroke-linecap="round" stroke-linejoin="round"/>
<path d="M126.7 23.9C127.1 21.2 127.7 18.5 128.5 15.8C129.4 15 130.5 14.8 131.4 15.2C132.5 17 133.3 19 133.7 21C134.1 23.1 134.3 25.3 134 27.8" stroke="#1c1c1c" stroke-width="0.95" fill="none" stroke-linecap="round" stroke-linejoin="round"/>
<path d="M129 18.7C130.1 20.1 130.9 21.7 131.4 23.4M128.3 22.4C130 22.1 131.6 22.1 133.2 22.4" stroke="#222" stroke-width="0.72" fill="none" stroke-linecap="round" stroke-linejoin="round"/>
<path d="M146.4 40.8L149.8 37.4M146.6 41.3L152.8 39.6M146.4 42.4L153.8 44.6M145.6 43.6L149.4 44.2M145.9 46.3L147.9 50.6" stroke="#222" stroke-width="0.72" fill="none" stroke-linecap="round" stroke-linejoin="round"/>
<path d="M137.7 47.6L138 52.2M140 47.6L140.6 53.2M134.7 48.9L134.4 52.2M138.9 47L139.4 51M136.7 46.3C136.9 45.2 137.3 44.3 138 43.7C138.9 43.2 139.8 43.1 140.6 43.3C141.3 43.7 141.7 44.3 141.9 45M138.2 46.4C138.4 45.4 138.8 44.7 139.5 44.5" stroke="#222" stroke-width="0.72" fill="none" stroke-linecap="round" stroke-linejoin="round"/>
<ellipse cx="133.6" cy="37" rx="1.9" ry="1.7" stroke="#1c1c1c" stroke-width="0.95" fill="none" stroke-linecap="round" stroke-linejoin="round"/>
</g></g>
<g font-family="Liberation Sans, sans-serif" font-size="12.5" fill="#111" text-anchor="middle">
<text x="420.2" y="71.3">x</text><text x="420.2" y="156.9">x</text><text x="608.5" y="69.4">x</text><text x="611.0" y="154.3">x</text></g>
<rect x="214.6" y="299.4" width="124.4" height="17.6" fill="#f4b183"/>
<rect x="214.6" y="317.0" width="202.0" height="17.6" fill="#f4b183"/>
<rect x="127.6" y="369.0" width="87.0" height="17.2" fill="#a9d18e"/>
<rect x="127.6" y="421.4" width="87.0" height="17.2" fill="#a9d18e"/>
<rect x="127.6" y="456.2" width="87.0" height="17.4" fill="#a9d18e"/>
<rect x="127.6" y="473.6" width="87.0" height="34.4" fill="#a9d18e"/>
<polygon points="127.6,473.6 214.6,508.0 127.6,508.0" fill="#f4b183"/>
<rect x="1.3" y="281.8" width="24.1" height="69.6" fill="#bcbec0" stroke="#808285" stroke-width="1.1"/>
<rect x="1.3" y="369.0" width="24.1" height="139.0" fill="#a7a9ac" stroke="#808285" stroke-width="1.1"/>
<rect x="25.4" y="351.4" width="391.2" height="17.6" fill="#000"/>
<path d="M25.4 247.4V351.4M25.4 369.0V508.0M72.6 247.4V351.4M72.6 369.0V508.0M127.6 247.4V351.4M127.6 369.0V508.0M214.6 247.4V351.4M214.6 369.0V508.0M280.4 247.4V351.4M280.4 369.0V508.0M339.0 247.4V351.4M339.0 369.0V508.0M416.6 247.4V351.4M416.6 369.0V508.0M24.9 247.4H417.1M24.9 281.8H417.1M24.9 299.4H417.1M24.9 317.0H417.1M24.9 334.6H417.1M24.9 386.2H417.1M24.9 404.0H417.1M24.9 421.4H417.1M24.9 438.6H417.1M24.9 456.2H417.1M24.9 473.6H417.1M24.9 508.0H417.1" stroke="#111" stroke-width="1.05" fill="none"/>
<g font-family="Liberation Sans, sans-serif" fill="#1a1a1a" text-anchor="middle">
<text transform="translate(48.8,270.0) scale(1.05,1)" font-size="12.0">Patient</text>
<text transform="translate(99.2,261.6) scale(0.95,1)" font-size="12.0">PDX take</text>
<text transform="translate(99.5,279.0) scale(1.07,1)" font-size="12.0">rate</text>
<text transform="translate(170.0,270.0) scale(1.03,1)" font-size="12.0">Flank tumors</text>
<text x="247.5" y="261.6" font-size="12.0">Spleen</text>
<text transform="translate(247.1,279.0) scale(1.06,1)" font-size="12.0">tumors</text>
<text transform="translate(309.7,261.6) scale(1.04,1)" font-size="12.0">Liver</text>
<text transform="translate(309.9,279.0) scale(1.06,1)" font-size="12.0">tumors</text>
<text x="377.8" y="261.6" font-size="12.0">Lymph node</text>
<text transform="translate(377.8,279.0) scale(1.06,1)" font-size="12.0">tumors</text>
<text x="49.0" y="295.7" font-size="12.0" font-weight="bold">9</text>
<text x="100.1" y="295.7" font-size="12.0">0/4</text>
<text x="171.1" y="295.7" font-size="12.0">0</text>
<text x="247.5" y="295.7" font-size="12.0">0</text>
<text x="309.7" y="295.7" font-size="12.0">0</text>
<text x="377.8" y="295.7" font-size="12.0">0</text>
<text x="49.0" y="313.3" font-size="12.0" font-weight="bold">12</text>
<text x="100.1" y="313.3" font-size="12.0">2/4</text>
<text x="171.1" y="313.3" font-size="12.0">0</text>
<text x="247.5" y="313.3" font-size="12.0">2/4</text>
<text x="309.7" y="313.3" font-size="12.0">1/4</text>
<text x="377.8" y="313.3" font-size="12.0">0</text>
<text x="49.0" y="330.9" font-size="12.0" font-weight="bold">13</text>
<text x="100.1" y="330.9" font-size="12.0">1/3</text>
<text x="171.1" y="330.9" font-size="12.0">0</text>
<text x="247.5" y="330.9" font-size="12.0">1/3</text>
<text x="309.7" y="330.9" font-size="12.0">1/3</text>
<text x="377.8" y="330.9" font-size="12.0">1/3</text>
<text x="49.0" y="347.7" font-size="12.0" font-weight="bold">14</text>
<text x="100.1" y="347.7" font-size="12.0">0/3</text>
<text x="171.1" y="347.7" font-size="12.0">0</text>
<text x="247.5" y="347.7" font-size="12.0">0</text>
<text x="309.7" y="347.7" font-size="12.0">0</text>
<text x="377.8" y="347.7" font-size="12.0">0</text>
<text x="49.0" y="382.5" font-size="12.0">9</text>
<text x="100.1" y="382.5" font-size="12.0">2/3</text>
<text x="171.1" y="382.5" font-size="12.0">2/3</text>
<text x="247.5" y="382.5" font-size="12.0">0</text>
<text x="309.7" y="382.5" font-size="12.0">0</text>
<text x="377.8" y="382.5" font-size="12.0">0</text>
<text x="49.0" y="400.3" font-size="12.0" font-weight="bold">15</text>
<text x="100.1" y="400.3" font-size="12.0">0/4</text>
<text x="171.1" y="400.3" font-size="12.0">0</text>
<text x="247.5" y="400.3" font-size="12.0">0</text>
<text x="309.7" y="400.3" font-size="12.0">0</text>
<text x="377.8" y="400.3" font-size="12.0">0</text>
<text x="49.0" y="417.7" font-size="12.0" font-weight="bold">16</text>
<text x="100.1" y="417.7" font-size="12.0">0/3</text>
<text x="171.1" y="417.7" font-size="12.0">0</text>
<text x="247.5" y="417.7" font-size="12.0">0</text>
<text x="309.7" y="417.7" font-size="12.0">0</text>
<text x="377.8" y="417.7" font-size="12.0">0</text>
<text x="49.0" y="434.9" font-size="12.0" font-weight="bold">17</text>
<text x="100.1" y="434.9" font-size="12.0">1/5</text>
<text x="171.1" y="434.9" font-size="12.0">1/5</text>
<text x="247.5" y="434.9" font-size="12.0">0</text>
<text x="309.7" y="434.9" font-size="12.0">0</text>
<text x="377.8" y="434.9" font-size="12.0">0</text>
<text x="49.0" y="452.5" font-size="12.0" font-weight="bold">18</text>
<text x="100.1" y="452.5" font-size="12.0">0/3</text>
<text x="171.1" y="452.5" font-size="12.0">0</text>
<text x="247.5" y="452.5" font-size="12.0">0</text>
<text x="309.7" y="452.5" font-size="12.0">0</text>
<text x="377.8" y="452.5" font-size="12.0">0</text>
<text x="49.0" y="469.9" font-size="12.0" font-weight="bold">20</text>
<text x="100.1" y="469.9" font-size="12.0">3/3</text>
<text x="171.1" y="469.9" font-size="12.0">3/3</text>
<text x="247.5" y="469.9" font-size="12.0">0</text>
<text x="309.7" y="469.9" font-size="12.0">0</text>
<text x="377.8" y="469.9" font-size="12.0">0</text>
<text x="49.0" y="495.0" font-size="12.0" font-weight="bold">21</text>
<text x="100.1" y="495.0" font-size="12.0">8/8</text>
<text transform="translate(169.1,488.0) scale(0.93,1)" font-size="12.0">6/8 HCC,</text>
<text x="171.1" y="505.0" font-size="12.0">2/8 lymphoid</text>
<text x="247.5" y="495.0" font-size="12.0">0</text>
<text x="309.7" y="495.0" font-size="12.0">0</text>
<text x="377.8" y="495.0" font-size="12.0">0</text>
</g>
<g font-family="Liberation Sans, sans-serif" fill="#333" text-anchor="middle" font-size="10.2">
<text transform="translate(10.2,316.6) rotate(-90)">Without</text>
<text transform="translate(22.6,316.6) rotate(-90)">Matrigel</text>
<text transform="translate(16.6,437.5) rotate(-90)" font-size="10.1">With Matrigel</text>
</g>
<rect x="439.4" y="335.4" width="28.2" height="17.2" fill="#a9d18e"/>
<rect x="439.4" y="352.5" width="28.2" height="18.0" fill="#f4b183"/>
<path d="M439.4 335.4H467.6V370.5H439.4ZM439.4 352.5H467.6" stroke="#111" stroke-width="1" fill="none"/>
<g font-family="Liberation Sans, sans-serif" fill="#1a1a1a" font-size="12">
<text transform="translate(470.4,349.0) scale(0.965,1)">HCC tumors</text><text transform="translate(470.4,366.6) scale(1.025,1)">Lymphoid tumors</text></g>
<text x="1.9" y="560.3" font-family="Liberation Sans, sans-serif" font-size="20.8" fill="#222">C</text>
<path d="M23.1 577.9H608.1" stroke="#262626" stroke-width="1.7"/>
<text x="315.8" y="572.0" font-family="Liberation Sans, sans-serif" font-weight="bold" font-size="17.5" fill="#222" text-anchor="middle">Implanted with Matrigel</text>
<path d="M87.4 612.8V711.8000000000001M83.0 613.4H87.4M83.0 633.0H87.4M83.0 652.5H87.4M83.0 672.1H87.4M83.0 691.6H87.4M83.0 711.2H87.4M97.4 722.0H250.1M98.0 722.0V726.2M128.3 722.0V726.2M158.6 722.0V726.2M188.9 722.0V726.2M219.2 722.0V726.2M249.5 722.0V726.2" stroke="#222" stroke-width="1.25" fill="none"/><g font-family="Liberation Sans, sans-serif" font-weight="bold" fill="#222" font-size="8"><text x="82.2" y="616.3" text-anchor="end">2000</text><text x="82.2" y="635.9" text-anchor="end">1600</text><text x="82.2" y="655.4" text-anchor="end">1200</text><text x="82.2" y="675.0" text-anchor="end">800</text><text x="82.2" y="694.5" text-anchor="end">400</text><text x="82.2" y="714.1" text-anchor="end">0</text><text x="98.0" y="734.2" text-anchor="middle">0</text><text x="128.3" y="734.2" text-anchor="middle">50</text><text x="158.6" y="734.2" text-anchor="middle">100</text><text x="188.9" y="734.2" text-anchor="middle">150</text><text x="219.2" y="734.2" text-anchor="middle">200</text><text x="249.5" y="734.2" text-anchor="middle">250</text></g><text transform="translate(56.0,662.1) rotate(-90)" font-family="Liberation Sans, sans-serif" font-weight="bold" font-size="10.4" fill="#222" text-anchor="middle">Tumor Volume (mm<tspan font-size="7.4" dy="-4.0">3</tspan><tspan dy="4.0">)</tspan></text><text x="174.0" y="748.0" font-family="Liberation Sans, sans-serif" font-weight="bold" font-size="10.5" fill="#222" text-anchor="middle">Time (days)</text><text x="168.7" y="599.0" font-family="Liberation Sans, sans-serif" font-weight="bold" font-size="13.3" fill="#222" text-anchor="middle">Patient 9</text><polygon points="132.5,709.1 134.4,712.6 130.6,712.6" fill="#22ad62"/><polygon points="136.8,709.1 138.7,712.6 134.9,712.6" fill="#22ad62"/><polygon points="149.5,709.1 151.4,712.6 147.6,712.6" fill="#22ad62"/><polygon points="153.8,709.1 155.7,712.6 151.9,712.6" fill="#22ad62"/><polygon points="158.0,709.1 159.9,712.6 156.1,712.6" fill="#22ad62"/><polygon points="169.5,709.1 171.4,712.6 167.6,712.6" fill="#22ad62"/><polygon points="175.6,709.1 177.5,712.6 173.7,712.6" fill="#22ad62"/><polygon points="181.3,709.1 183.2,712.6 179.4,712.6" fill="#22ad62"/><polygon points="185.9,709.1 187.8,712.6 184.0,712.6" fill="#22ad62"/><polyline points="98.0,711.2 103.5,711.2 107.1,711.2 111.3,707.4 115.6,707.4 124.1,707.4 128.3,701.7 132.5,704.3 136.8,704.3 149.5,704.3 153.8,704.6 158.0,701.7 169.5,703.8" fill="none" stroke="#e9383d" stroke-width="1.1" stroke-linejoin="round"/><rect x="96.3" y="709.5" width="3.4" height="3.4" fill="#e9383d"/><rect x="101.8" y="709.5" width="3.4" height="3.4" fill="#e9383d"/><rect x="105.4" y="709.5" width="3.4" height="3.4" fill="#e9383d"/><rect x="109.6" y="705.7" width="3.4" height="3.4" fill="#e9383d"/><rect x="113.9" y="705.7" width="3.4" height="3.4" fill="#e9383d"/><rect x="122.4" y="705.7" width="3.4" height="3.4" fill="#e9383d"/><rect x="126.6" y="700.0" width="3.4" height="3.4" fill="#e9383d"/><rect x="130.8" y="702.6" width="3.4" height="3.4" fill="#e9383d"/><rect x="135.1" y="702.6" width="3.4" height="3.4" fill="#e9383d"/><rect x="147.8" y="702.6" width="3.4" height="3.4" fill="#e9383d"/><rect x="152.1" y="702.9" width="3.4" height="3.4" fill="#e9383d"/><rect x="156.3" y="700.0" width="3.4" height="3.4" fill="#e9383d"/><rect x="167.8" y="702.1" width="3.4" height="3.4" fill="#e9383d"/><polyline points="98.0,711.2 103.5,711.2 107.1,711.2 111.3,711.2 115.6,711.2 124.1,711.2 128.3,711.2 132.5,710.2 136.8,710.2 149.5,705.3 153.8,701.4 158.0,689.4 169.5,663.5" fill="none" stroke="#4954a9" stroke-width="1.1" stroke-linejoin="round"/><circle cx="98.0" cy="711.2" r="1.9" fill="#4954a9"/><circle cx="103.5" cy="711.2" r="1.9" fill="#4954a9"/><circle cx="107.1" cy="711.2" r="1.9" fill="#4954a9"/><circle cx="111.3" cy="711.2" r="1.9" fill="#4954a9"/><circle cx="115.6" cy="711.2" r="1.9" fill="#4954a9"/><circle cx="124.1" cy="711.2" r="1.9" fill="#4954a9"/><circle cx="128.3" cy="711.2" r="1.9" fill="#4954a9"/><circle cx="132.5" cy="710.2" r="1.9" fill="#4954a9"/><circle cx="136.8" cy="710.2" r="1.9" fill="#4954a9"/><circle cx="149.5" cy="705.3" r="1.9" fill="#4954a9"/><circle cx="153.8" cy="701.4" r="1.9" fill="#4954a9"/><circle cx="158.0" cy="689.4" r="1.9" fill="#4954a9"/><circle cx="169.5" cy="663.5" r="1.9" fill="#4954a9"/><path d="M244 620.6H256" stroke="#4954a9" stroke-width="1.1" fill="none"/><circle cx="250.0" cy="620.6" r="1.8" fill="#4954a9"/><text x="262" y="623.7" font-family="Liberation Sans, sans-serif" font-size="8.5" fill="#1c1c1c">m1016</text><path d="M244 633.0H256" stroke="#e9383d" stroke-width="1.1" fill="none"/><rect x="248.3" y="631.3" width="3.4" height="3.4" fill="#e9383d"/><text x="262" y="636.1" font-family="Liberation Sans, sans-serif" font-size="8.5" fill="#1c1c1c">m1027</text><polygon points="250.0,644.2 251.7,647.2 248.3,647.2" fill="#22ad62"/><text x="262" y="649.1" font-family="Liberation Sans, sans-serif" font-size="8.5" fill="#1c1c1c">m1029</text>
<path d="M386.0 612.8V711.8000000000001M381.6 613.4H386.0M381.6 633.0H386.0M381.6 652.5H386.0M381.6 672.1H386.0M381.6 691.6H386.0M381.6 711.2H386.0M396.0 722.0H549.2M396.6 722.0V726.2M427.0 722.0V726.2M457.4 722.0V726.2M487.8 722.0V726.2M518.2 722.0V726.2M548.6 722.0V726.2" stroke="#222" stroke-width="1.25" fill="none"/><g font-family="Liberation Sans, sans-serif" font-weight="bold" fill="#222" font-size="8"><text x="380.8" y="616.3" text-anchor="end">2000</text><text x="380.8" y="635.9" text-anchor="end">1600</text><text x="380.8" y="655.4" text-anchor="end">1200</text><text x="380.8" y="675.0" text-anchor="end">800</text><text x="380.8" y="694.5" text-anchor="end">400</text><text x="380.8" y="714.1" text-anchor="end">0</text><text x="396.6" y="734.2" text-anchor="middle">75</text><text x="427.0" y="734.2" text-anchor="middle">100</text><text x="457.4" y="734.2" text-anchor="middle">125</text><text x="487.8" y="734.2" text-anchor="middle">150</text><text x="518.2" y="734.2" text-anchor="middle">175</text><text x="548.6" y="734.2" text-anchor="middle">200</text></g><text transform="translate(360.4,662.1) rotate(-90)" font-family="Liberation Sans, sans-serif" font-weight="bold" font-size="10.4" fill="#222" text-anchor="middle">Tumor Volume (mm<tspan font-size="7.4" dy="-4.0">3</tspan><tspan dy="4.0">)</tspan></text><text x="472.5" y="748.0" font-family="Liberation Sans, sans-serif" font-weight="bold" font-size="10.5" fill="#222" text-anchor="middle">Time (days)</text><text x="466.5" y="599.0" font-family="Liberation Sans, sans-serif" font-weight="bold" font-size="13.3" fill="#222" text-anchor="middle">Patient 17</text><polygon points="400.2,712.9 402.1,709.4 398.3,709.4" fill="#1a1a1a"/><polygon points="408.8,712.9 410.7,709.4 406.9,709.4" fill="#1a1a1a"/><polygon points="417.3,712.9 419.2,709.4 415.4,709.4" fill="#1a1a1a"/><polygon points="425.8,712.9 427.7,709.4 423.9,709.4" fill="#1a1a1a"/><polygon points="451.3,712.9 453.2,709.4 449.4,709.4" fill="#1a1a1a"/><polygon points="503.6,712.9 505.5,709.4 501.7,709.4" fill="#1a1a1a"/><polygon points="400.2,707.2 402.5,711.4 397.9,711.4" fill="#22ad62"/><polygon points="408.8,706.5 411.1,710.7 406.5,710.7" fill="#22ad62"/><polygon points="417.3,706.8 419.6,710.9 415.0,710.9" fill="#22ad62"/><polygon points="425.8,707.0 428.1,711.1 423.5,711.1" fill="#22ad62"/><polygon points="451.3,704.7 453.6,708.8 449.0,708.8" fill="#22ad62"/><polygon points="459.8,708.5 462.1,712.6 457.5,712.6" fill="#22ad62"/><polygon points="491.4,708.5 493.7,712.6 489.1,712.6" fill="#22ad62"/><polygon points="503.6,708.1 505.9,712.3 501.3,712.3" fill="#22ad62"/><polygon points="515.8,705.7 518.1,709.8 513.5,709.8" fill="#22ad62"/><polygon points="524.3,706.2 526.6,710.3 522.0,710.3" fill="#22ad62"/><polygon points="408.8,697.9 411.1,700.2 408.8,702.5 406.5,700.2" fill="#1a1a1a"/><polygon points="417.3,700.2 419.6,702.5 417.3,704.8 415.0,702.5" fill="#1a1a1a"/><polygon points="459.8,703.5 462.1,705.8 459.8,708.1 457.5,705.8" fill="#1a1a1a"/><polygon points="468.3,702.4 470.6,704.7 468.3,707.0 466.0,704.7" fill="#1a1a1a"/><rect x="397.8" y="705.7" width="4.8" height="4.8" fill="#e9383d"/><rect x="406.4" y="703.1" width="4.8" height="4.8" fill="#e9383d"/><rect x="414.9" y="704.4" width="4.8" height="4.8" fill="#e9383d"/><rect x="423.4" y="705.1" width="4.8" height="4.8" fill="#e9383d"/><rect x="448.9" y="706.0" width="4.8" height="4.8" fill="#e9383d"/><rect x="457.4" y="707.0" width="4.8" height="4.8" fill="#e9383d"/><rect x="465.9" y="707.0" width="4.8" height="4.8" fill="#e9383d"/><rect x="489.0" y="707.6" width="4.8" height="4.8" fill="#e9383d"/><rect x="501.2" y="707.0" width="4.8" height="4.8" fill="#e9383d"/><rect x="513.4" y="708.2" width="4.8" height="4.8" fill="#e9383d"/><rect x="521.9" y="708.2" width="4.8" height="4.8" fill="#e9383d"/><polyline points="396.6,706.3 400.2,706.6 408.8,688.4 417.3,673.6 425.8,669.2" fill="none" stroke="#4954a9" stroke-width="1.1" stroke-linejoin="round"/><circle cx="400.2" cy="706.6" r="1.9" fill="#4954a9"/><circle cx="408.8" cy="688.4" r="1.9" fill="#4954a9"/><circle cx="417.3" cy="673.6" r="1.9" fill="#4954a9"/><circle cx="425.8" cy="669.2" r="1.9" fill="#4954a9"/><path d="M542.4 620.6H554.4" stroke="#4954a9" stroke-width="1.1" fill="none"/><circle cx="548.4" cy="620.6" r="1.8" fill="#4954a9"/><text x="560.6" y="623.7" font-family="Liberation Sans, sans-serif" font-size="8.5" fill="#1c1c1c">m1511</text><rect x="546.3" y="630.9" width="4.2" height="4.2" fill="#e9383d"/><text x="560.6" y="636.1" font-family="Liberation Sans, sans-serif" font-size="8.5" fill="#1c1c1c">m1512</text><polygon points="548.4,643.0 551.2,648.0 545.6,648.0" fill="#22ad62"/><text x="560.6" y="649.1" font-family="Liberation Sans, sans-serif" font-size="8.5" fill="#1c1c1c">m1513</text><polygon points="548.4,661.0 550.8,656.7 546.0,656.7" fill="#1a1a1a"/><text x="560.6" y="661.5" font-family="Liberation Sans, sans-serif" font-size="8.5" fill="#1c1c1c">m1514</text><polygon points="548.4,670.4 550.6,672.6 548.4,674.8 546.2,672.6" fill="#1a1a1a"/><text x="560.6" y="675.7" font-family="Liberation Sans, sans-serif" font-size="8.5" fill="#1c1c1c">m1515</text>
<path d="M87.4 794.0V892.4M83.0 794.6H87.4M83.0 814.0H87.4M83.0 833.5H87.4M83.0 852.9H87.4M83.0 872.4H87.4M83.0 891.8H87.4M97.4 902.6H250.1M98.0 902.6V906.8M128.3 902.6V906.8M158.6 902.6V906.8M188.9 902.6V906.8M219.2 902.6V906.8M249.5 902.6V906.8" stroke="#222" stroke-width="1.25" fill="none"/><g font-family="Liberation Sans, sans-serif" font-weight="bold" fill="#222" font-size="8"><text x="82.2" y="797.5" text-anchor="end">2000</text><text x="82.2" y="816.9" text-anchor="end">1600</text><text x="82.2" y="836.4" text-anchor="end">1200</text><text x="82.2" y="855.8" text-anchor="end">800</text><text x="82.2" y="875.3" text-anchor="end">400</text><text x="82.2" y="894.7" text-anchor="end">0</text><text x="98.0" y="914.8" text-anchor="middle">0</text><text x="128.3" y="914.8" text-anchor="middle">50</text><text x="158.6" y="914.8" text-anchor="middle">100</text><text x="188.9" y="914.8" text-anchor="middle">150</text><text x="219.2" y="914.8" text-anchor="middle">200</text><text x="249.5" y="914.8" text-anchor="middle">250</text></g><text transform="translate(56.0,843.0) rotate(-90)" font-family="Liberation Sans, sans-serif" font-weight="bold" font-size="10.4" fill="#222" text-anchor="middle">Tumor Volume (mm<tspan font-size="7.4" dy="-4.0">3</tspan><tspan dy="4.0">)</tspan></text><text x="174.0" y="928.6" font-family="Liberation Sans, sans-serif" font-weight="bold" font-size="10.5" fill="#222" text-anchor="middle">Time (days)</text><text x="168.7" y="779.6" font-family="Liberation Sans, sans-serif" font-weight="bold" font-size="13.3" fill="#222" text-anchor="middle">Patient 20</text><polyline points="98.4,891.8 102.8,891.8 107.2,891.8 115.7,891.8 120.0,890.5 124.2,889.4 128.5,889.4 141.1,889.4 145.4,887.3 149.7,884.9 161.1,881.7 167.4,879.5 173.5,880.1 177.7,872.6" fill="none" stroke="#22ad62" stroke-width="1.1" stroke-linejoin="round"/><polygon points="98.4,889.8 100.2,893.1 96.6,893.1" fill="#22ad62"/><polygon points="102.8,889.8 104.6,893.1 101.0,893.1" fill="#22ad62"/><polygon points="107.2,889.8 109.0,893.1 105.4,893.1" fill="#22ad62"/><polygon points="115.7,889.8 117.5,893.1 113.9,893.1" fill="#22ad62"/><polygon points="120.0,888.5 121.8,891.8 118.2,891.8" fill="#22ad62"/><polygon points="124.2,887.4 126.0,890.7 122.4,890.7" fill="#22ad62"/><polygon points="128.5,887.4 130.3,890.7 126.7,890.7" fill="#22ad62"/><polygon points="141.1,887.4 142.9,890.7 139.2,890.7" fill="#22ad62"/><polygon points="145.4,885.3 147.2,888.6 143.6,888.6" fill="#22ad62"/><polygon points="149.7,882.9 151.5,886.2 147.8,886.2" fill="#22ad62"/><polygon points="161.1,879.7 162.9,883.0 159.2,883.0" fill="#22ad62"/><polygon points="167.4,877.5 169.2,880.8 165.6,880.8" fill="#22ad62"/><polygon points="173.5,878.1 175.3,881.4 171.7,881.4" fill="#22ad62"/><polygon points="177.7,870.6 179.5,873.9 175.8,873.9" fill="#22ad62"/><polyline points="98.4,891.8 102.8,887.3 107.2,887.3 115.7,887.3 128.5,887.3 141.1,887.3 145.4,891.3 149.7,890.7 161.1,888.3 167.4,886.2 173.5,883.3" fill="none" stroke="#e9383d" stroke-width="1.1" stroke-linejoin="round"/><rect x="96.7" y="890.1" width="3.4" height="3.4" fill="#e9383d"/><rect x="101.1" y="885.6" width="3.4" height="3.4" fill="#e9383d"/><rect x="105.5" y="885.6" width="3.4" height="3.4" fill="#e9383d"/><rect x="114.0" y="885.6" width="3.4" height="3.4" fill="#e9383d"/><rect x="126.8" y="885.6" width="3.4" height="3.4" fill="#e9383d"/><rect x="139.4" y="885.6" width="3.4" height="3.4" fill="#e9383d"/><rect x="143.7" y="889.6" width="3.4" height="3.4" fill="#e9383d"/><rect x="148.0" y="889.0" width="3.4" height="3.4" fill="#e9383d"/><rect x="159.4" y="886.6" width="3.4" height="3.4" fill="#e9383d"/><rect x="165.7" y="884.5" width="3.4" height="3.4" fill="#e9383d"/><rect x="171.8" y="881.6" width="3.4" height="3.4" fill="#e9383d"/><polyline points="98.4,891.8 102.8,885.7 107.2,885.7 115.7,881.4 120.0,886.5 124.2,887.0 128.5,869.0 141.1,873.7 145.4,854.6" fill="none" stroke="#4954a9" stroke-width="1.1" stroke-linejoin="round"/><circle cx="98.4" cy="891.8" r="1.9" fill="#4954a9"/><circle cx="102.8" cy="885.7" r="1.9" fill="#4954a9"/><circle cx="107.2" cy="885.7" r="1.9" fill="#4954a9"/><circle cx="115.7" cy="881.4" r="1.9" fill="#4954a9"/><circle cx="120.0" cy="886.5" r="1.9" fill="#4954a9"/><circle cx="124.2" cy="887.0" r="1.9" fill="#4954a9"/><circle cx="128.5" cy="869.0" r="1.9" fill="#4954a9"/><circle cx="141.1" cy="873.7" r="1.9" fill="#4954a9"/><circle cx="145.4" cy="854.6" r="1.9" fill="#4954a9"/><path d="M244 801.6H256" stroke="#4954a9" stroke-width="1.1" fill="none"/><circle cx="250.0" cy="801.6" r="1.8" fill="#4954a9"/><text x="262" y="804.7" font-family="Liberation Sans, sans-serif" font-size="8.5" fill="#1c1c1c">m891</text><path d="M244 814.0H256" stroke="#e9383d" stroke-width="1.1" fill="none"/><rect x="248.3" y="812.3" width="3.4" height="3.4" fill="#e9383d"/><text x="262" y="817.1" font-family="Liberation Sans, sans-serif" font-size="8.5" fill="#1c1c1c">m892</text><path d="M244 827.0H256" stroke="#22ad62" stroke-width="1.1" fill="none"/><polygon points="250.0,825.2 251.7,828.2 248.3,828.2" fill="#22ad62"/><text x="262" y="830.1" font-family="Liberation Sans, sans-serif" font-size="8.5" fill="#1c1c1c">m893</text>
<path d="M386.0 794.0V892.4M381.6 794.6H386.0M381.6 818.9H386.0M381.6 843.2H386.0M381.6 867.5H386.0M381.6 891.8H386.0M396.0 902.6H549.2M396.6 902.6V906.8M427.0 902.6V906.8M457.4 902.6V906.8M487.8 902.6V906.8M518.2 902.6V906.8M548.6 902.6V906.8" stroke="#222" stroke-width="1.25" fill="none"/><g font-family="Liberation Sans, sans-serif" font-weight="bold" fill="#222" font-size="8"><text x="380.8" y="797.5" text-anchor="end">2000</text><text x="380.8" y="821.8" text-anchor="end">1500</text><text x="380.8" y="846.1" text-anchor="end">1000</text><text x="380.8" y="870.4" text-anchor="end">500</text><text x="380.8" y="894.7" text-anchor="end">0</text><text x="396.6" y="914.8" text-anchor="middle">0</text><text x="427.0" y="914.8" text-anchor="middle">50</text><text x="457.4" y="914.8" text-anchor="middle">100</text><text x="487.8" y="914.8" text-anchor="middle">150</text><text x="518.2" y="914.8" text-anchor="middle">200</text><text x="548.6" y="914.8" text-anchor="middle">250</text></g><text transform="translate(355.0,843.0) rotate(-90)" font-family="Liberation Sans, sans-serif" font-weight="bold" font-size="10.4" fill="#222" text-anchor="middle">Tumor Volume (mm<tspan font-size="7.4" dy="-4.0">3</tspan><tspan dy="4.0">)</tspan></text><text x="472.5" y="928.6" font-family="Liberation Sans, sans-serif" font-weight="bold" font-size="10.5" fill="#222" text-anchor="middle">Time (days)</text><text x="466.5" y="779.6" font-family="Liberation Sans, sans-serif" font-weight="bold" font-size="13.3" fill="#222" text-anchor="middle">Patient 21</text><polyline points="417.9,879.2 420.3,883.5 424.6,886.5 428.8,888.4 433.1,888.9 437.3,889.9 441.6,890.3 445.8,889.9 450.1,889.4 454.4,888.9 464.1,888.0 472.6,886.5 476.2,887.2 481.1,884.0 484.8,879.2 488.4,872.4 492.1,870.4 496.9,866.3 501.2,865.8 505.4,859.5 510.9,851.9 513.9,854.1 518.2,849.8 522.5,842.2 526.7,834.2 531.0,812.3" fill="none" stroke="#ec1d7a" stroke-width="1.1" stroke-linejoin="round"/><rect x="416.3" y="877.6" width="3.2" height="3.2" fill="#ec1d7a"/><rect x="418.7" y="881.9" width="3.2" height="3.2" fill="#ec1d7a"/><rect x="423.0" y="884.9" width="3.2" height="3.2" fill="#ec1d7a"/><rect x="427.2" y="886.8" width="3.2" height="3.2" fill="#ec1d7a"/><rect x="431.5" y="887.3" width="3.2" height="3.2" fill="#ec1d7a"/><rect x="435.7" y="888.3" width="3.2" height="3.2" fill="#ec1d7a"/><rect x="440.0" y="888.7" width="3.2" height="3.2" fill="#ec1d7a"/><rect x="444.2" y="888.3" width="3.2" height="3.2" fill="#ec1d7a"/><rect x="448.5" y="887.8" width="3.2" height="3.2" fill="#ec1d7a"/><rect x="452.8" y="887.3" width="3.2" height="3.2" fill="#ec1d7a"/><rect x="462.5" y="886.4" width="3.2" height="3.2" fill="#ec1d7a"/><rect x="471.0" y="884.9" width="3.2" height="3.2" fill="#ec1d7a"/><rect x="474.6" y="885.6" width="3.2" height="3.2" fill="#ec1d7a"/><rect x="479.5" y="882.4" width="3.2" height="3.2" fill="#ec1d7a"/><rect x="483.2" y="877.6" width="3.2" height="3.2" fill="#ec1d7a"/><rect x="486.8" y="870.8" width="3.2" height="3.2" fill="#ec1d7a"/><rect x="490.5" y="868.8" width="3.2" height="3.2" fill="#ec1d7a"/><rect x="495.3" y="864.7" width="3.2" height="3.2" fill="#ec1d7a"/><rect x="499.6" y="864.2" width="3.2" height="3.2" fill="#ec1d7a"/><rect x="503.8" y="857.9" width="3.2" height="3.2" fill="#ec1d7a"/><rect x="509.3" y="850.3" width="3.2" height="3.2" fill="#ec1d7a"/><rect x="512.3" y="852.5" width="3.2" height="3.2" fill="#ec1d7a"/><rect x="516.6" y="848.2" width="3.2" height="3.2" fill="#ec1d7a"/><rect x="520.9" y="840.6" width="3.2" height="3.2" fill="#ec1d7a"/><rect x="525.1" y="832.6" width="3.2" height="3.2" fill="#ec1d7a"/><rect x="529.4" y="810.7" width="3.2" height="3.2" fill="#ec1d7a"/><polyline points="417.9,876.7 420.3,879.2 424.6,882.1 428.8,886.9 433.1,886.5 434.3,877.2 437.3,886.9 441.6,888.9 445.8,888.4 450.1,885.5 464.1,877.9 472.6,881.6 476.2,884.8 481.1,881.6 484.8,875.0 488.4,861.2 492.1,863.6 496.9,853.9 501.2,855.8 505.4,836.6" fill="none" stroke="#8e44ad" stroke-width="1.1" stroke-linejoin="round"/><circle cx="417.9" cy="876.7" r="1.8" fill="#8e44ad"/><circle cx="420.3" cy="879.2" r="1.8" fill="#8e44ad"/><circle cx="424.6" cy="882.1" r="1.8" fill="#8e44ad"/><circle cx="428.8" cy="886.9" r="1.8" fill="#8e44ad"/><circle cx="433.1" cy="886.5" r="1.8" fill="#8e44ad"/><circle cx="434.3" cy="877.2" r="1.8" fill="#8e44ad"/><circle cx="437.3" cy="886.9" r="1.8" fill="#8e44ad"/><circle cx="441.6" cy="888.9" r="1.8" fill="#8e44ad"/><circle cx="445.8" cy="888.4" r="1.8" fill="#8e44ad"/><circle cx="450.1" cy="885.5" r="1.8" fill="#8e44ad"/><circle cx="464.1" cy="877.9" r="1.8" fill="#8e44ad"/><circle cx="472.6" cy="881.6" r="1.8" fill="#8e44ad"/><circle cx="476.2" cy="884.8" r="1.8" fill="#8e44ad"/><circle cx="481.1" cy="881.6" r="1.8" fill="#8e44ad"/><circle cx="484.8" cy="875.0" r="1.8" fill="#8e44ad"/><circle cx="488.4" cy="861.2" r="1.8" fill="#8e44ad"/><circle cx="492.1" cy="863.6" r="1.8" fill="#8e44ad"/><circle cx="496.9" cy="853.9" r="1.8" fill="#8e44ad"/><circle cx="501.2" cy="855.8" r="1.8" fill="#8e44ad"/><circle cx="505.4" cy="836.6" r="1.8" fill="#8e44ad"/><polyline points="417.9,886.9 424.6,884.0 428.8,886.0 433.1,886.9 437.3,887.4 441.6,885.0 447.1,870.9 450.1,871.9 464.1,875.0 472.6,875.0 476.2,883.1 482.3,877.5 484.8,862.4 488.4,855.1 492.1,803.8" fill="none" stroke="#f58a33" stroke-width="1.1" stroke-linejoin="round"/><polygon points="417.9,884.9 419.7,888.3 416.0,888.3" fill="#f58a33"/><polygon points="424.6,882.0 426.4,885.4 422.7,885.4" fill="#f58a33"/><polygon points="428.8,884.0 430.7,887.3 427.0,887.3" fill="#f58a33"/><polygon points="433.1,884.9 434.9,888.3 431.2,888.3" fill="#f58a33"/><polygon points="437.3,885.4 439.2,888.8 435.5,888.8" fill="#f58a33"/><polygon points="441.6,883.0 443.4,886.3 439.7,886.3" fill="#f58a33"/><polygon points="447.1,868.9 448.9,872.2 445.2,872.2" fill="#f58a33"/><polygon points="450.1,869.9 452.0,873.2 448.3,873.2" fill="#f58a33"/><polygon points="464.1,873.0 465.9,876.4 462.2,876.4" fill="#f58a33"/><polygon points="472.6,873.0 474.5,876.4 470.8,876.4" fill="#f58a33"/><polygon points="476.2,881.1 478.1,884.4 474.4,884.4" fill="#f58a33"/><polygon points="482.3,875.5 484.2,878.8 480.5,878.8" fill="#f58a33"/><polygon points="484.8,860.4 486.6,863.7 482.9,863.7" fill="#f58a33"/><polygon points="488.4,853.1 490.3,856.4 486.6,856.4" fill="#f58a33"/><polygon points="492.1,801.8 493.9,805.2 490.2,805.2" fill="#f58a33"/><polyline points="420.3,880.6 424.6,886.0 428.8,884.0 433.1,889.4 437.3,890.8 441.6,888.4 445.8,878.7 464.1,853.9" fill="none" stroke="#e9383d" stroke-width="1.1" stroke-linejoin="round"/><rect x="418.7" y="879.0" width="3.2" height="3.2" fill="#e9383d"/><rect x="423.0" y="884.4" width="3.2" height="3.2" fill="#e9383d"/><rect x="427.2" y="882.4" width="3.2" height="3.2" fill="#e9383d"/><rect x="431.5" y="887.8" width="3.2" height="3.2" fill="#e9383d"/><rect x="435.7" y="889.2" width="3.2" height="3.2" fill="#e9383d"/><rect x="440.0" y="886.8" width="3.2" height="3.2" fill="#e9383d"/><rect x="444.2" y="877.1" width="3.2" height="3.2" fill="#e9383d"/><rect x="462.5" y="852.3" width="3.2" height="3.2" fill="#e9383d"/><polyline points="417.9,888.4 424.6,889.4 428.8,888.9 433.1,885.5 437.3,885.5 441.6,883.5 447.1,871.9 459.8,851.9" fill="none" stroke="#4954a9" stroke-width="1.1" stroke-linejoin="round"/><circle cx="417.9" cy="888.4" r="1.8" fill="#4954a9"/><circle cx="424.6" cy="889.4" r="1.8" fill="#4954a9"/><circle cx="428.8" cy="888.9" r="1.8" fill="#4954a9"/><circle cx="433.1" cy="885.5" r="1.8" fill="#4954a9"/><circle cx="437.3" cy="885.5" r="1.8" fill="#4954a9"/><circle cx="441.6" cy="883.5" r="1.8" fill="#4954a9"/><circle cx="447.1" cy="871.9" r="1.8" fill="#4954a9"/><circle cx="459.8" cy="851.9" r="1.8" fill="#4954a9"/><polyline points="396.6,891.8 405.1,886.0 407.5,877.7 411.8,879.2 416.1,875.5 420.3,860.2 424.6,841.3 428.8,886.5 433.1,885.5 436.7,864.6 439.8,864.6 442.2,864.6 445.8,875.0 451.6,881.0 453.4,886.1 458.6,886.5 464.7,886.5 482.3,877.9 492.1,875.8 495.7,863.9 500.6,857.3 504.2,852.4 507.9,845.4 511.5,847.8 515.8,833.5" fill="none" stroke="#22ad62" stroke-width="1.1" stroke-linejoin="round"/><polygon points="396.6,889.8 398.5,893.1 394.8,893.1" fill="#22ad62"/><polygon points="405.1,884.0 407.0,887.3 403.3,887.3" fill="#22ad62"/><polygon points="407.5,875.7 409.4,879.0 405.7,879.0" fill="#22ad62"/><polygon points="411.8,877.2 413.7,880.5 409.9,880.5" fill="#22ad62"/><polygon points="416.1,873.5 417.9,876.9 414.2,876.9" fill="#22ad62"/><polygon points="420.3,858.2 422.2,861.5 418.5,861.5" fill="#22ad62"/><polygon points="424.6,839.3 426.4,842.6 422.7,842.6" fill="#22ad62"/><polygon points="428.8,884.5 430.7,887.8 427.0,887.8" fill="#22ad62"/><polygon points="433.1,883.5 434.9,886.8 431.2,886.8" fill="#22ad62"/><polygon points="436.7,862.6 438.6,865.9 434.9,865.9" fill="#22ad62"/><polygon points="439.8,862.6 441.6,865.9 437.9,865.9" fill="#22ad62"/><polygon points="442.2,862.6 444.1,865.9 440.4,865.9" fill="#22ad62"/><polygon points="445.8,873.0 447.7,876.4 444.0,876.4" fill="#22ad62"/><polygon points="451.6,879.0 453.5,882.3 449.8,882.3" fill="#22ad62"/><polygon points="453.4,884.1 455.3,887.4 451.6,887.4" fill="#22ad62"/><polygon points="458.6,884.5 460.5,887.8 456.8,887.8" fill="#22ad62"/><polygon points="464.7,884.5 466.5,887.8 462.8,887.8" fill="#22ad62"/><polygon points="482.3,876.0 484.2,879.3 480.5,879.3" fill="#22ad62"/><polygon points="492.1,873.8 493.9,877.1 490.2,877.1" fill="#22ad62"/><polygon points="495.7,861.9 497.6,865.2 493.9,865.2" fill="#22ad62"/><polygon points="500.6,855.3 502.4,858.6 498.7,858.6" fill="#22ad62"/><polygon points="504.2,850.4 506.1,853.8 502.4,853.8" fill="#22ad62"/><polygon points="507.9,843.4 509.7,846.7 506.0,846.7" fill="#22ad62"/><polygon points="511.5,845.8 513.4,849.1 509.7,849.1" fill="#22ad62"/><polygon points="515.8,831.5 517.6,834.8 513.9,834.8" fill="#22ad62"/><polyline points="396.6,891.8 405.1,891.8 407.5,891.8 411.8,891.8 416.1,891.8 420.3,891.8 424.6,891.8 428.8,891.8 433.1,891.8 437.3,891.8 441.6,891.8 445.8,891.8 451.9,891.8 454.4,891.8 458.6,891.8 464.7,891.8 473.2,874.5 482.3,854.4 491.4,800.2 495.1,808.2" fill="none" stroke="#1a1a1a" stroke-width="1.3" stroke-linejoin="round" stroke-dasharray="3.2 2.2"/><circle cx="396.6" cy="891.8" r="1.8" fill="#1a1a1a"/><circle cx="405.1" cy="891.8" r="1.8" fill="#1a1a1a"/><circle cx="407.5" cy="891.8" r="1.8" fill="#1a1a1a"/><circle cx="411.8" cy="891.8" r="1.8" fill="#1a1a1a"/><circle cx="416.1" cy="891.8" r="1.8" fill="#1a1a1a"/><circle cx="420.3" cy="891.8" r="1.8" fill="#1a1a1a"/><circle cx="424.6" cy="891.8" r="1.8" fill="#1a1a1a"/><circle cx="428.8" cy="891.8" r="1.8" fill="#1a1a1a"/><circle cx="433.1" cy="891.8" r="1.8" fill="#1a1a1a"/><circle cx="437.3" cy="891.8" r="1.8" fill="#1a1a1a"/><circle cx="441.6" cy="891.8" r="1.8" fill="#1a1a1a"/><circle cx="445.8" cy="891.8" r="1.8" fill="#1a1a1a"/><circle cx="451.9" cy="891.8" r="1.8" fill="#1a1a1a"/><circle cx="454.4" cy="891.8" r="1.8" fill="#1a1a1a"/><circle cx="458.6" cy="891.8" r="1.8" fill="#1a1a1a"/><circle cx="464.7" cy="891.8" r="1.8" fill="#1a1a1a"/><circle cx="473.2" cy="874.5" r="1.8" fill="#1a1a1a"/><circle cx="482.3" cy="854.4" r="1.8" fill="#1a1a1a"/><circle cx="491.4" cy="800.2" r="1.8" fill="#1a1a1a"/><circle cx="495.1" cy="808.2" r="1.8" fill="#1a1a1a"/><polyline points="396.6,891.8 405.1,891.8 407.5,891.8 411.8,891.8 416.1,891.8 420.3,891.8 424.6,891.8 428.8,885.0 433.1,885.0 437.3,885.0 441.6,886.5 445.8,883.5 451.9,883.1 454.4,879.6 458.6,874.8 465.3,840.0" fill="none" stroke="#1a1a1a" stroke-width="1.3" stroke-linejoin="round" stroke-dasharray="3.2 2.2"/><rect x="395.0" y="890.2" width="3.2" height="3.2" fill="#1a1a1a"/><rect x="403.5" y="890.2" width="3.2" height="3.2" fill="#1a1a1a"/><rect x="405.9" y="890.2" width="3.2" height="3.2" fill="#1a1a1a"/><rect x="410.2" y="890.2" width="3.2" height="3.2" fill="#1a1a1a"/><rect x="414.5" y="890.2" width="3.2" height="3.2" fill="#1a1a1a"/><rect x="418.7" y="890.2" width="3.2" height="3.2" fill="#1a1a1a"/><rect x="423.0" y="890.2" width="3.2" height="3.2" fill="#1a1a1a"/><rect x="427.2" y="883.4" width="3.2" height="3.2" fill="#1a1a1a"/><rect x="431.5" y="883.4" width="3.2" height="3.2" fill="#1a1a1a"/><rect x="435.7" y="883.4" width="3.2" height="3.2" fill="#1a1a1a"/><rect x="440.0" y="884.9" width="3.2" height="3.2" fill="#1a1a1a"/><rect x="444.2" y="881.9" width="3.2" height="3.2" fill="#1a1a1a"/><rect x="450.3" y="881.5" width="3.2" height="3.2" fill="#1a1a1a"/><rect x="452.8" y="878.0" width="3.2" height="3.2" fill="#1a1a1a"/><rect x="457.0" y="873.2" width="3.2" height="3.2" fill="#1a1a1a"/><rect x="463.7" y="838.4" width="3.2" height="3.2" fill="#1a1a1a"/><path d="M542.5 792.0H554.1" stroke="#1a1a1a" stroke-width="1.1" fill="none" stroke-dasharray="3 2.4"/><circle cx="548.3" cy="792.0" r="1.8" fill="#1a1a1a"/><text x="560.8" y="795.1" font-family="Liberation Sans, sans-serif" font-size="8.5" fill="#1c1c1c">m4687</text><path d="M542.5 807.0H554.1" stroke="#1a1a1a" stroke-width="1.1" fill="none" stroke-dasharray="3 2.4"/><rect x="546.6" y="805.3" width="3.4" height="3.4" fill="#1a1a1a"/><text x="560.8" y="810.1" font-family="Liberation Sans, sans-serif" font-size="8.5" fill="#1c1c1c">m4688</text><path d="M542.5 821.8H554.1" stroke="#22ad62" stroke-width="1.1" fill="none"/><polygon points="548.3,820.0 550.0,823.0 546.6,823.0" fill="#22ad62"/><text x="560.8" y="824.9" font-family="Liberation Sans, sans-serif" font-size="8.5" fill="#1c1c1c">m3585</text><path d="M542.5 836.5H554.1" stroke="#4954a9" stroke-width="1.1" fill="none"/><circle cx="548.3" cy="836.5" r="1.8" fill="#4954a9"/><text x="560.8" y="839.6" font-family="Liberation Sans, sans-serif" font-size="8.5" fill="#1c1c1c">m4101</text><path d="M542.5 851.1H554.1" stroke="#e9383d" stroke-width="1.1" fill="none"/><rect x="546.6" y="849.4" width="3.4" height="3.4" fill="#e9383d"/><text x="560.8" y="854.2" font-family="Liberation Sans, sans-serif" font-size="8.5" fill="#1c1c1c">m4102</text><path d="M542.5 865.9H554.1" stroke="#f58a33" stroke-width="1.1" fill="none"/><polygon points="548.3,864.1 550.0,867.1 546.6,867.1" fill="#f58a33"/><text x="560.8" y="869.0" font-family="Liberation Sans, sans-serif" font-size="8.5" fill="#1c1c1c">m4103</text><path d="M542.5 880.7H554.1" stroke="#8e44ad" stroke-width="1.1" fill="none"/><circle cx="548.3" cy="880.7" r="1.8" fill="#8e44ad"/><text x="560.8" y="883.8" font-family="Liberation Sans, sans-serif" font-size="8.5" fill="#1c1c1c">m4104</text><path d="M542.5 895.3H554.1" stroke="#ec1d7a" stroke-width="1.1" fill="none"/><rect x="546.6" y="893.6" width="3.4" height="3.4" fill="#ec1d7a"/><text x="560.8" y="898.4" font-family="Liberation Sans, sans-serif" font-size="8.5" fill="#1c1c1c">m4105</text>
</svg>
</body></html>
